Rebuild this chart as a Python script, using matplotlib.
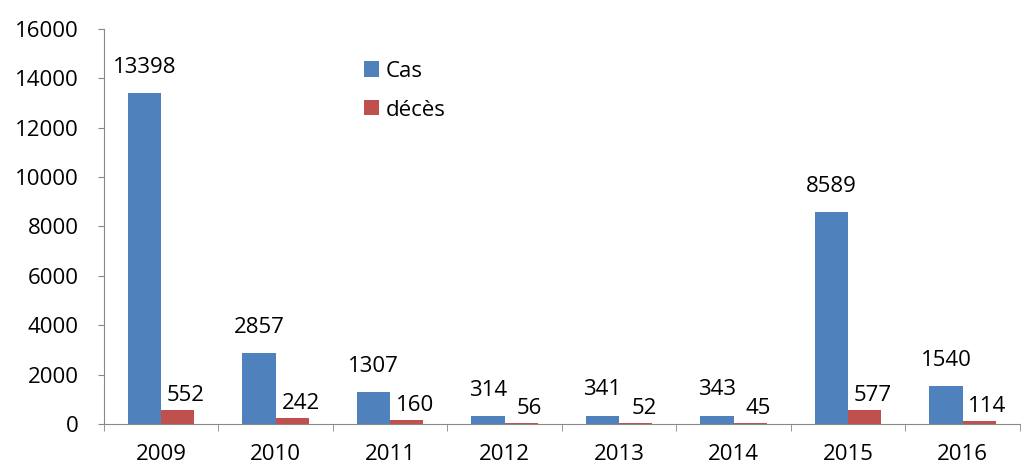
import matplotlib.pyplot as plt
import numpy as np

annees = ["2009", "2010", "2011", "2012", "2013", "2014", "2015", "2016"]
cas = [13398, 2857, 1307, 314, 341, 343, 8589, 1540]
deces = [552, 242, 160, 56, 52, 45, 577, 114]

plt.rcParams['font.family'] = ['Open Sans', 'DejaVu Sans']
fs = 16

fig = plt.figure(figsize=(10.29, 4.66), dpi=100)
ax = fig.add_axes([0.101, 0.090, 0.890, 0.848])

x = np.arange(len(annees))
w = 0.29
b1 = ax.bar(x - w / 2, cas, w, color="#4f81bd", label="Cas")
b2 = ax.bar(x + w / 2, deces, w, color="#c0504d", label="décès")

for rect, v in zip(b1, cas):
    ax.annotate(str(v), (rect.get_x() + rect.get_width() / 2, v),
                xytext=(0, 11), textcoords="offset points",
                ha="center", va="bottom", fontsize=fs)
for rect, v in zip(b2, deces):
    ax.annotate(str(v), (rect.get_x() + rect.get_width() / 2, v),
                xytext=(6, 3), textcoords="offset points",
                ha="center", va="bottom", fontsize=fs)

ax.set_xlim(-0.5, len(annees) - 0.5)
ax.set_ylim(0, 16000)
ax.set_yticks(range(0, 16001, 2000))
ax.set_xticks(x)
ax.set_xticklabels(annees)
ax.set_xticks(np.arange(-0.5, len(annees)), minor=True)
ax.tick_params(axis="x", which="major", length=0, pad=14, labelsize=fs)
ax.tick_params(axis="x", which="minor", length=5, color="#888888", direction="out")
ax.tick_params(axis="y", length=4, color="#888888", labelsize=fs, pad=14)

for s in ["top", "right"]:
    ax.spines[s].set_visible(False)
for s in ["left", "bottom"]:
    ax.spines[s].set_color("#888888")

ax.legend(loc="upper left", bbox_to_anchor=(0.262, 0.97), frameon=False,
          fontsize=fs, handlelength=0.68, handleheight=0.68, handletextpad=0.3,
          labelspacing=0.8)

plt.savefig("out.png", dpi=100)
